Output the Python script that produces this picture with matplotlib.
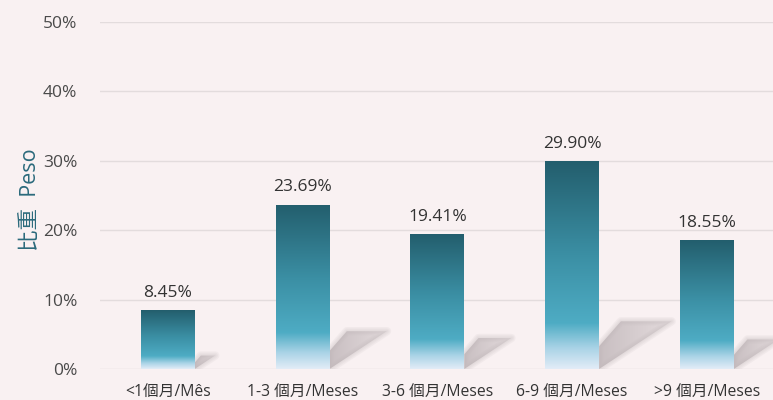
import numpy as np
from matplotlib import pyplot as plt
from matplotlib.colors import LinearSegmentedColormap
from matplotlib.patches import Polygon, Rectangle

# datos
categorias = ["<1個月/Mês", "1-3 個月/Meses", "3-6 個月/Meses", "6-9 個月/Meses", ">9 個月/Meses"]
valores = [8.45, 23.69, 19.41, 29.90, 18.55]
etiquetas_y = ["0%", "10%", "20%", "30%", "40%", "50%"]
ticks_y = [0, 10, 20, 30, 40, 50]

FONDO = "#f9f1f2"
ANCHO = 0.4

plt.rcParams["font.family"] = ["Open Sans", "Noto Sans CJK TC", "DejaVu Sans"]

fig = plt.figure(figsize=(7.73, 4.0), dpi=100, facecolor=FONDO)
ax = fig.add_axes([0.129, 0.0775, 0.871, 0.8675], facecolor=FONDO)

# degradado de las barras (arriba oscuro, abajo claro)
cmap = LinearSegmentedColormap.from_list(
    "barra", [(0.0, "#e2ecf7"), (0.1, "#a9d3e6"), (0.22, "#4eacc4"),
              (0.55, "#3b8fa4"), (1.0, "#235e6d")])
grad = np.linspace(0, 1, 256).reshape(-1, 1)

# sombra: gris que se desvanece hacia la derecha
sombra = np.zeros((2, 64, 4))
sombra[..., :3] = np.array([0.74, 0.70, 0.71])
sombra[..., 3] = np.linspace(0.8, 0.35, 64)

for i, v in enumerate(valores):
    x0 = i - ANCHO / 2
    xr = i + ANCHO / 2
    # sombra difusa
    dx = 0.018 * v
    pts = [(xr, 0), (xr, 0.11 * v), (xr + 0.3 * dx, 0.23 * v), (xr + dx, 0.23 * v)]
    for lw in [6, 4, 2]:
        ax.add_patch(Polygon(pts, closed=True, facecolor="none", edgecolor="#c8bfc1",
                             linewidth=lw, joinstyle="round", alpha=0.15, zorder=2))
    poly = Polygon(pts, closed=True, facecolor="none", edgecolor="none")
    ax.add_patch(poly)
    sim = ax.imshow(sombra, origin="lower", aspect="auto",
                    extent=[xr, xr + dx, 0, 0.23 * v], zorder=2)
    sim.set_clip_path(poly)
    im = ax.imshow(grad, cmap=cmap, origin="lower", aspect="auto",
                   extent=[x0, xr, 0, v], zorder=3)
    rect = Rectangle((x0, 0), ANCHO, v, transform=ax.transData, facecolor="none")
    im.set_clip_path(rect)
    ax.text(i, v + 1.4, f"{v:.2f}%", ha="center", va="bottom", fontsize=12.5, color="#333333")

ax.set_xlim(-0.505, 4.49)
ax.set_ylim(0, 50)
ax.set_yticks(ticks_y)
ax.set_yticklabels(etiquetas_y, fontsize=12.5, color="#4a4a4a")
ax.set_xticks(range(len(categorias)))
ax.set_xticklabels(categorias, fontsize=11.3, color="#333333")
ax.tick_params(axis="y", length=0, pad=16)
ax.tick_params(axis="x", length=0, pad=11)
ax.grid(axis="y", color="#e3dcdd", linewidth=1)
ax.set_axisbelow(True)
for s in ax.spines.values():
    s.set_visible(False)

fig.text(0.04, 0.5, "比重  Peso", rotation=90, ha="center", va="center",
         fontsize=15.5, color="#2b6a7c")

plt.savefig("out.png", dpi=100, facecolor=FONDO)
